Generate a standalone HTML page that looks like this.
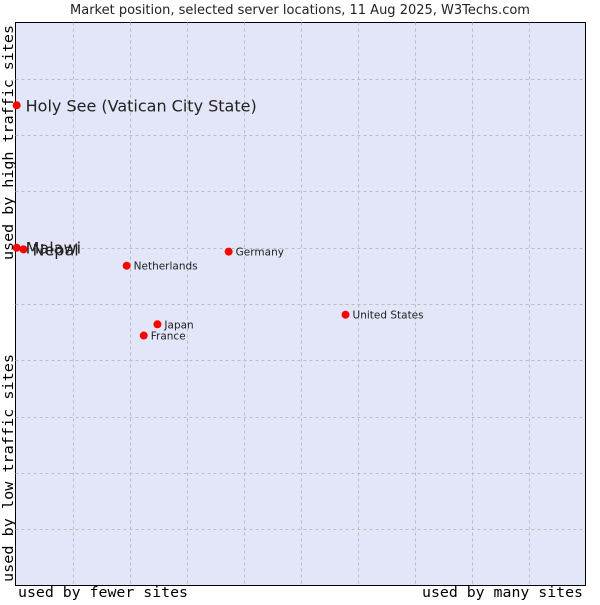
<!DOCTYPE html>
<html><head><meta charset="utf-8"><style>
body{margin:0;background:#fff;width:600px;height:600px;overflow:hidden}
svg text{font-family:"DejaVu Sans","Liberation Sans",sans-serif}
.mono{font-family:"DejaVu Sans Mono","Liberation Mono",monospace}
</style></head><body>
<svg id="c" width="600" height="600">
<text x="300" y="14" text-anchor="middle" font-size="13" fill="#222">Market position, selected server locations, 11 Aug 2025, W3Techs.com</text>
<rect x="15.5" y="22.5" width="570" height="563" fill="#e3e5f8" stroke="#000"/>
<g id="grid"></g>
<g id="pts"></g>
<text class="mono" x="18" y="597" font-size="14" textLength="170" lengthAdjust="spacingAndGlyphs" fill="#000">used by fewer sites</text>
<text class="mono" x="422" y="597" font-size="14" textLength="161" lengthAdjust="spacingAndGlyphs" fill="#000">used by many sites</text>
<text class="mono" transform="translate(13,260) rotate(-90)" font-size="14" textLength="235" lengthAdjust="spacingAndGlyphs" fill="#000">used by high traffic sites</text>
<text class="mono" transform="translate(13,582) rotate(-90)" font-size="14" textLength="228" lengthAdjust="spacingAndGlyphs" fill="#000">used by low traffic sites</text>
</svg>
<script>
const names=["Holy See (Vatican City State)","Malawi","Nepal","Netherlands","Germany","United States","Japan","France"];
const xVals=[0.2,0.2,1.4,19.5,37.4,57.9,24.9,22.5];
const yVals=[85.3,60.0,59.7,56.8,59.3,48.1,46.4,44.4];
const bigLabel=[true,true,true,false,false,false,false,false];
const L=15.5,T=22.5,W=570,H=563;
const sx=v=>L+v/100*W, sy=v=>T+H-v/100*H;
const NS="http://www.w3.org/2000/svg";
const grid=document.getElementById('grid');
for(let i=1;i<10;i++){
  const lv=document.createElementNS(NS,'line');
  
  
  const x=Math.round(sx(i*10))+0.5;
  lv.setAttribute('x1',x);lv.setAttribute('x2',x);lv.setAttribute('y1',T);lv.setAttribute('y2',T+H);
  lv.setAttribute('stroke','#bbb');lv.setAttribute('stroke-dasharray','3,3');
  grid.appendChild(lv);
  const lh=document.createElementNS(NS,'line');
  
  
  const y=Math.round(sy(i*10))+0.5;
  lh.setAttribute('y1',y);lh.setAttribute('y2',y);lh.setAttribute('x1',L);lh.setAttribute('x2',L+W);
  lh.setAttribute('stroke','#bbb');lh.setAttribute('stroke-dasharray','3,3');
  grid.appendChild(lh);
}
const pts=document.getElementById('pts');
names.forEach((n,i)=>{
  const x=sx(xVals[i]),y=sy(yVals[i]);
  const c=document.createElementNS(NS,'circle');
  
  
  c.setAttribute('cx',x);c.setAttribute('cy',y);c.setAttribute('r',4);c.setAttribute('fill','#f00');
  pts.appendChild(c);
  const t=document.createElementNS(NS,'text');
  
  
  const big=bigLabel[i];
  t.setAttribute('x',x+(big?9:7));t.setAttribute('y',y+(big?6:4));
  t.setAttribute('font-size',big?16:10.5);t.setAttribute('fill','#222');
  t.textContent=n;
  pts.appendChild(t);
});
</script>
</body></html>
